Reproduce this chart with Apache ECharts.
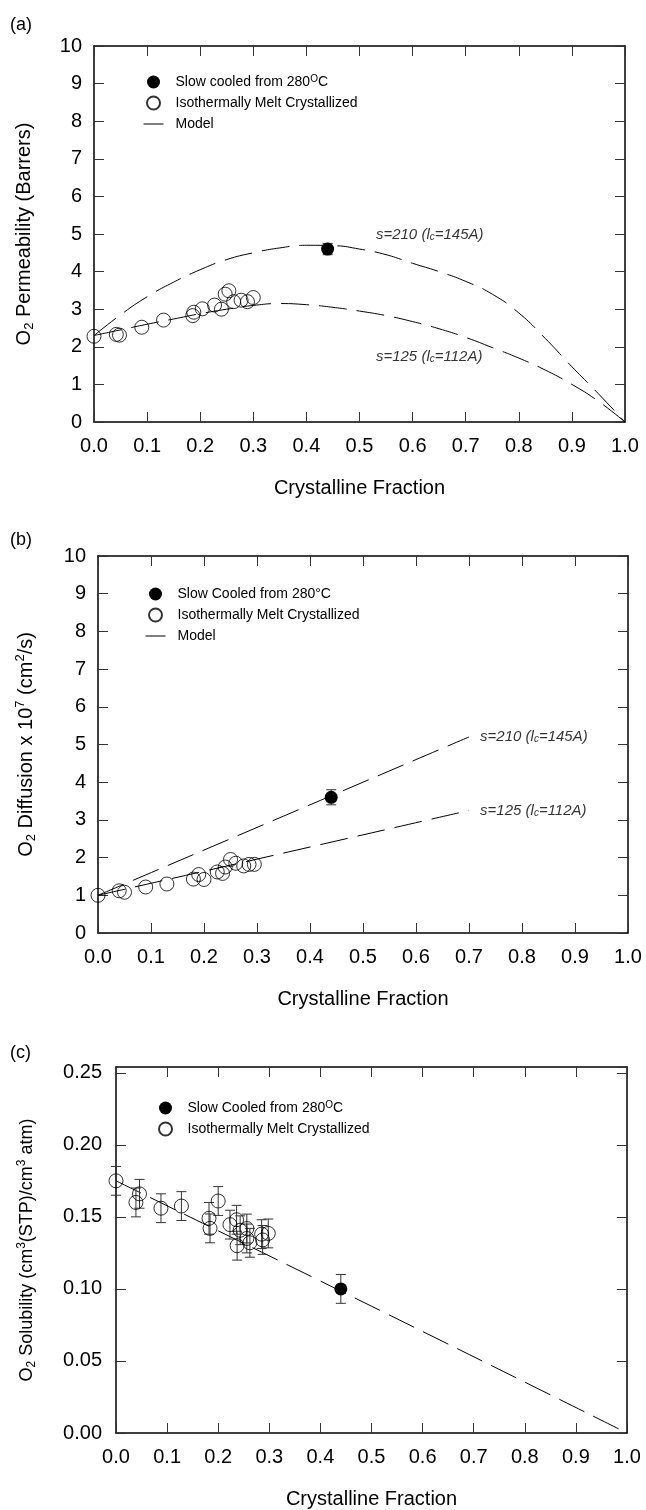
<!DOCTYPE html>
<html>
<head>
<meta charset="utf-8">
<script src="https://cdn.jsdelivr.net/npm/echarts@6/dist/echarts.min.js"></script>
<style>
  html, body { margin: 0; padding: 0; background: #fff; }
  #chart { width: 646px; height: 1510px; }
</style>
</head>
<body>
<div id="chart"></div>
<script>
// ---- (a) O2 permeability ----
const permIso = [[0, 2.28], [0.042, 2.33], [0.048, 2.31], [0.09, 2.52], [0.131, 2.71], [0.186, 2.83],
    [0.188, 2.92], [0.204, 3.01], [0.227, 3.11], [0.240, 3.0], [0.247, 3.40], [0.254, 3.49],
    [0.263, 3.2], [0.277, 3.24], [0.289, 3.2], [0.30, 3.31]];
const permSlow = [[0.44, 4.6]];
const permSlowErr = [[0.44, 4.45, 4.75]];
const modelX = [0, 0.05, 0.1, 0.15, 0.2, 0.25, 0.3, 0.35, 0.4, 0.45, 0.5, 0.55, 0.6, 0.65, 0.7, 0.75, 0.8, 0.85, 0.9, 0.95, 1.0];
const permS210 = [2.3, 2.85, 3.33, 3.72, 4.05, 4.32, 4.5, 4.63, 4.7, 4.69, 4.6, 4.45, 4.22, 4.0, 3.74, 3.4, 2.9, 2.22, 1.47, 0.75, 0];
const permS125 = [2.3, 2.45, 2.6, 2.74, 2.88, 3.0, 3.1, 3.15, 3.12, 3.05, 2.95, 2.83, 2.67, 2.48, 2.25, 1.98, 1.7, 1.38, 1.0, 0.55, 0];
const permNotes = [[0.53, 4.97, '{i|s=210 (l}{c|c}{i|=145A)}'], [0.53, 1.73, '{i|s=125 (l}{c|c}{i|=112A)}']];

// ---- (b) O2 diffusion ----
const diffIso = [[0, 1.0], [0.04, 1.12], [0.05, 1.08], [0.09, 1.22], [0.13, 1.3], [0.18, 1.43], [0.19, 1.55],
    [0.2, 1.42], [0.225, 1.62], [0.235, 1.58], [0.24, 1.75], [0.25, 1.95], [0.26, 1.85], [0.275, 1.78],
    [0.285, 1.82], [0.295, 1.82]];
const diffSlow = [[0.44, 3.6]];
const diffSlowErr = [[0.44, 3.4, 3.8]];
const diffS210 = [[0, 1.0], [0.35, 3.1], [0.7, 5.2]];
const diffS125 = [[0, 1.0], [0.35, 2.12], [0.7, 3.25]];
const diffNotes = [[0.72, 5.2, '{i|s=210 (l}{c|c}{i|=145A)}'], [0.72, 3.25, '{i|s=125 (l}{c|c}{i|=112A)}']];

// ---- (c) O2 solubility ----
const solIso = [[0, 0.175], [0.039, 0.160], [0.046, 0.166], [0.088, 0.156], [0.128, 0.1575], [0.182, 0.149],
    [0.184, 0.142], [0.200, 0.161], [0.223, 0.1446], [0.236, 0.148], [0.237, 0.130], [0.243, 0.1407],
    [0.256, 0.1419], [0.256, 0.135], [0.262, 0.132], [0.285, 0.138], [0.287, 0.134], [0.298, 0.1385]];
const solIsoErr = [0.010, 0.010, 0.010, 0.010, 0.010, 0.011, 0.010, 0.010, 0.010, 0.010, 0.010, 0.010,
    0.010, 0.010, 0.010, 0.010, 0.010, 0.010];
const solSlow = [[0.44, 0.100]];
const solSlowErr = [0.010];
const solModel = [[0, 0.175], [0.5, 0.088], [1.0, 0]];

const FONT = "'Liberation Sans', Arial, sans-serif";
const chart = echarts.init(document.getElementById('chart'));

const grids = [
    { left: 94, right: 21, top: 46, height: 376 },
    { left: 98, right: 18, top: 556, height: 377 },
    { left: 116, right: 19, top: 1067, height: 369 }
];

const axisLine = { show: true, onZero: false, lineStyle: { color: '#000', width: 1.5 } };
const tick = { show: true, inside: true, length: 10, lineStyle: { color: '#333', width: 1 } };
const tickLabel = { fontSize: 20, color: '#000', fontFamily: FONT };

const xAxes = [];
const yAxes = [];
grids.forEach((g, i) => {
    xAxes.push({
        type: 'value', gridIndex: i, min: 0, max: 1, interval: 0.1, position: 'bottom',
        axisLine: axisLine, axisTick: tick, splitLine: { show: false },
        axisLabel: Object.assign({ margin: 14, formatter: v => v.toFixed(1) }, tickLabel),
        name: 'Crystalline Fraction', nameLocation: 'middle', nameGap: 56,
        nameTextStyle: { fontSize: 20, color: '#000', fontFamily: FONT }
    });
    xAxes.push({
        type: 'value', gridIndex: i, min: 0, max: 1, interval: 0.1, position: 'top',
        axisLine: axisLine, axisTick: tick, splitLine: { show: false }, axisLabel: { show: false }
    });
});

const nameRich = {
    t: { fontSize: 20, lineHeight: 24, fontFamily: FONT, color: '#000' },
    s: { fontSize: 13, lineHeight: 12, verticalAlign: 'bottom', fontFamily: FONT, color: '#000' },
    p: { fontSize: 13, lineHeight: 12, verticalAlign: 'top', fontFamily: FONT, color: '#000' }
};
const nameRichC = {
    t: { fontSize: 18, lineHeight: 22, fontFamily: FONT, color: '#000' },
    s: { fontSize: 12, lineHeight: 11, verticalAlign: 'bottom', fontFamily: FONT, color: '#000' },
    p: { fontSize: 12, lineHeight: 11, verticalAlign: 'top', fontFamily: FONT, color: '#000' }
};

const yDefs = [
    { min: 0, max: 10, interval: 1, fmt: v => String(v), margin: 12, gap: 58,
      name: '{t|O}{s|2}{t| Permeability (Barrers)}', rich: nameRich },
    { min: 0, max: 10, interval: 1, fmt: v => String(v), margin: 12, gap: 60,
      name: '{t|O}{s|2}{t| Diffusion x 10}{p|7}{t| (cm}{p|2}{t|/s)}', rich: nameRich },
    { min: 0, max: 0.254, interval: 0.05, fmt: v => v.toFixed(2), margin: 14, gap: 78,
      name: '{t|O}{s|2}{t| Solubility (cm}{p|3}{t|(STP)/cm}{p|3}{t| atm)}', rich: nameRichC }
];
yDefs.forEach((d, i) => {
    yAxes.push({
        type: 'value', gridIndex: i, min: d.min, max: d.max, interval: d.interval, position: 'left',
        axisLine: axisLine, axisTick: tick, splitLine: { show: false },
        axisLabel: Object.assign({ margin: d.margin, formatter: d.fmt, showMaxLabel: i !== 2 }, tickLabel),
        name: d.name, nameLocation: 'middle', nameGap: d.gap,
        nameTextStyle: { rich: d.rich }
    });
    yAxes.push({
        type: 'value', gridIndex: i, min: d.min, max: d.max, interval: d.interval, position: 'right',
        axisLine: axisLine, axisTick: tick, splitLine: { show: false }, axisLabel: { show: false }
    });
});

function errBars(params, api) {
    const x = api.value(0);
    const top = api.coord([x, api.value(2)]);
    const bot = api.coord([x, api.value(1)]);
    const w = 5;
    const st = { stroke: '#333', lineWidth: 1 };
    return {
        type: 'group', children: [
            { type: 'line', shape: { x1: top[0], y1: top[1], x2: bot[0], y2: bot[1] }, style: st },
            { type: 'line', shape: { x1: top[0] - w, y1: top[1], x2: top[0] + w, y2: top[1] }, style: st },
            { type: 'line', shape: { x1: bot[0] - w, y1: bot[1], x2: bot[0] + w, y2: bot[1] }, style: st }
        ]
    };
}

const dash = { type: [28, 10], width: 1, color: '#000' };
const openStyle = { color: 'rgba(0,0,0,0)', borderColor: '#000', borderWidth: 1 };
const noteRich = {
    i: { fontSize: 15, fontStyle: 'italic', fontFamily: FONT, color: '#000' },
    c: { fontSize: 10, fontStyle: 'italic', fontFamily: FONT, color: '#000', lineHeight: 10, verticalAlign: 'bottom' }
};

function lineSeries(name, i, data) {
    return { name: name, type: 'line', xAxisIndex: 2 * i, yAxisIndex: 2 * i, data: data,
        symbol: 'none', smooth: true, color: '#000', lineStyle: dash, silent: true, z: 1 };
}
function openSeries(name, i, data) {
    return { name: name, type: 'scatter', xAxisIndex: 2 * i, yAxisIndex: 2 * i, data: data,
        symbol: 'circle', symbolSize: 14, itemStyle: openStyle, z: 3 };
}
function slowSeries(name, i, data) {
    return { name: name, type: 'scatter', xAxisIndex: 2 * i, yAxisIndex: 2 * i, data: data,
        symbol: 'circle', symbolSize: 13, itemStyle: { color: '#000', opacity: 1 }, z: 4 };
}
function errSeries(i, data) {
    return { type: 'custom', xAxisIndex: 2 * i, yAxisIndex: 2 * i, data: data, renderItem: errBars,
        encode: { x: 0, y: [1, 2] }, silent: true, z: 2 };
}
function noteSeries(i, notes) {
    return { type: 'scatter', xAxisIndex: 2 * i, yAxisIndex: 2 * i, symbolSize: 1, silent: true,
        itemStyle: { color: 'rgba(0,0,0,0)' },
        data: notes.map(n => ({ value: [n[0], n[1]], label: { formatter: n[2] } })),
        label: { show: true, position: 'right', distance: 0, rich: noteRich } };
}

const legendText = { fontSize: 14, color: '#000', fontFamily: FONT, lineHeight: 16, padding: [0, 0, 0, 7],
    rich: { o: { fontSize: 10, lineHeight: 10, verticalAlign: 'top', fontFamily: FONT, color: '#000' } } };
function legend(left, top, names) {
    return { orient: 'vertical', left: left, top: top, itemWidth: 20, itemHeight: 13, itemGap: 5,
        selectedMode: false, textStyle: legendText,
        data: names.map(n => n.indexOf('Model') === 0
            ? { name: n, itemStyle: { opacity: 0 }, lineStyle: { type: 'solid', width: 1, color: '#000' } }
            : n),
        formatter: n => n.replace('280OC', '280{o|O}C') };
}

const series = [
    lineSeries('Model', 0, modelX.map((x, k) => [x, permS210[k]])),
    lineSeries('Model s125', 0, modelX.map((x, k) => [x, permS125[k]])),
    openSeries('Isothermally Melt Crystallized', 0, permIso),
    errSeries(0, permSlowErr),
    slowSeries('Slow cooled from 280OC', 0, permSlow),
    noteSeries(0, permNotes),

    lineSeries('Model ', 1, diffS210),
    lineSeries('Model s125 ', 1, diffS125),
    openSeries('Isothermally Melt Crystallized ', 1, diffIso),
    errSeries(1, diffSlowErr),
    slowSeries('Slow Cooled from 280°C', 1, diffSlow),
    noteSeries(1, diffNotes),

    lineSeries('Model c', 2, solModel),
    errSeries(2, solIso.map((p, k) => [p[0], p[1] - solIsoErr[k], p[1] + solIsoErr[k]])),
    openSeries('Isothermally Melt Crystallized  ', 2, solIso),
    errSeries(2, solSlow.map((p, k) => [p[0], p[1] - solSlowErr[k], p[1] + solSlowErr[k]])),
    slowSeries('Slow Cooled from 280OC', 2, solSlow)
];

chart.setOption({
    animation: false,
    backgroundColor: '#fff',
    textStyle: { fontFamily: FONT },
    grid: grids,
    xAxis: xAxes,
    yAxis: yAxes,
    legend: [
        legend(138, 69, ['Slow cooled from 280OC', 'Isothermally Melt Crystallized', 'Model']),
        legend(140, 581, ['Slow Cooled from 280°C', 'Isothermally Melt Crystallized ', 'Model ']),
        legend(153, 1095, ['Slow Cooled from 280OC', 'Isothermally Melt Crystallized  '])
    ],
    graphic: [
        { type: 'text', left: 10, top: 16, style: { text: '(a)', fontSize: 18, fontFamily: FONT, fill: '#000' } },
        { type: 'text', left: 10, top: 531, style: { text: '(b)', fontSize: 18, fontFamily: FONT, fill: '#000' } },
        { type: 'text', left: 10, top: 1044, style: { text: '(c)', fontSize: 18, fontFamily: FONT, fill: '#000' } }
    ],
    series: series
});
</script>
</body>
</html>
